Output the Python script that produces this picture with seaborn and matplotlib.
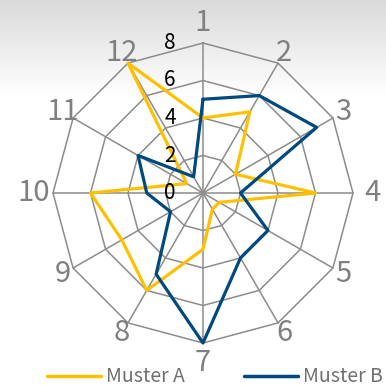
import numpy as np
import pandas as pd
import matplotlib
matplotlib.use("Agg")
import matplotlib.pyplot as plt
import matplotlib.transforms as mtransforms
from matplotlib.lines import Line2D
import seaborn as sns

categories = ["1", "2", "3", "4", "5", "6", "7", "8", "9", "10", "11", "12"]
muster_a = [4, 5, 2, 6, 1, 1, 3, 6, 5, 6, 1, 8]
muster_b = [5, 6, 7, 2, 4, 4, 8, 5, 2, 3, 4, 1]
series_names = ["Muster A", "Muster B"]
radial_ticks = [0, 2, 4, 6, 8]

colors = {"Muster A": "#FFC000", "Muster B": "#00497F"}
grid_color = "#8C8C8C"
label_color = "#808080"

sns.set_style("white")
plt.rcParams["font.family"] = ["Noto Sans CJK JP", "DejaVu Sans"]

n = len(categories)
angles = np.arange(n) * 2 * np.pi / n

rows = []
for name, vals in zip(series_names, [muster_a, muster_b]):
    for i in range(n + 1):
        rows.append({"series": name, "order": i,
                     "theta": angles[i % n] if i < n else 2 * np.pi,
                     "value": vals[i % n]})
df = pd.DataFrame(rows)

W = H = 386
dpi = 100
fig = plt.figure(figsize=(W / dpi, H / dpi), dpi=dpi)

# background gradient
bg = fig.add_axes([0, 0, 1, 1])
ys = np.arange(H)
grad = np.where(ys < 95, (218 + (255 - 218) * ys / 95.0) / 255.0, 1.0)
img = np.repeat(grad[:, None], 2, axis=1)
bg.imshow(np.dstack([img, img, img]), aspect="auto", extent=[0, 1, 0, 1])
bg.set_axis_off()

cx, cy, R = 203, 193, 150
ax = fig.add_axes([(cx - R) / W, (H - cy - R) / H, 2 * R / W, 2 * R / H],
                  projection="polar")
ax.patch.set_alpha(0)
ax.set_theta_zero_location("N")
ax.set_theta_direction(-1)
ax.set_ylim(0, 8)
ax.grid(False)
ax.spines["polar"].set_visible(False)
ax.set_xticks([])
ax.set_yticks([])

ring_theta = np.append(angles, angles[0])
for v in radial_ticks[1:]:
    ax.plot(ring_theta, [v] * (n + 1), color=grid_color, lw=1.1, zorder=1, clip_on=False)
for a in angles:
    ax.plot([a, a], [0, 8], color=grid_color, lw=1.1, zorder=1, clip_on=False)

sns.lineplot(data=df, x="theta", y="value", hue="series", sort=False,
             estimator=None, units="series", palette=colors, hue_order=series_names,
             lw=2.3, ax=ax, legend=False, zorder=3)
for line in ax.lines[-2:]:
    line.set_clip_on(False)
ax.lines[-1].set_zorder(4)
ax.set_xlabel("")
ax.set_ylabel("")
ax.set_ylim(0, 8)

for a, lab in zip(angles, categories):
    r = 9.05 if lab in ("1", "4", "7", "10") else 8.65
    ax.text(a, r, lab, ha="center", va="center", fontsize=21, color=label_color,
            clip_on=False)

off = mtransforms.ScaledTranslation(-33 / dpi, 0, fig.dpi_scale_trans)
for v in radial_ticks:
    ax.text(0, v, str(v), transform=ax.transData + off, ha="center", va="center",
            fontsize=15, color="black", clip_on=False, zorder=5)

handles = [Line2D([], [], color=colors[s], lw=2.5) for s in series_names]
leg = fig.legend(handles, series_names, loc="center left",
                 bbox_to_anchor=(47 / W, 1 - 377 / H), ncol=2, frameon=False,
                 fontsize=14, handlelength=2.8, handletextpad=0.25,
                 columnspacing=3.0, borderpad=0, borderaxespad=0)
for t in leg.get_texts():
    t.set_color("#707070")

fig.savefig("out.png", dpi=dpi)
